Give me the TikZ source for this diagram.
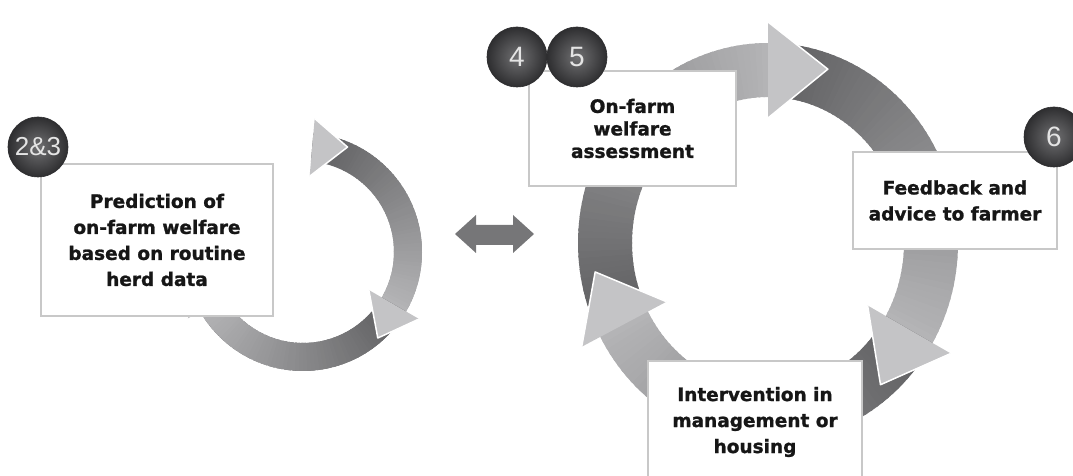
\documentclass[tikz,border=0pt]{standalone}
\usepackage{fontspec}
\newfontfamily\lblfont{DejaVu Sans}[BoldFeatures={FakeBold=1.2}]
\newfontfamily\numfont{Liberation Sans}
\definecolor{ringdark}{HTML}{5E5E60}
\definecolor{ringlight}{HTML}{B4B4B6}
\definecolor{ringhead}{HTML}{C4C4C6}
\definecolor{boxline}{HTML}{C8C8C8}
\definecolor{txt}{HTML}{161616}
\definecolor{balldark}{HTML}{2E2E30}
\definecolor{balllight}{HTML}{707072}
\definecolor{numtext}{HTML}{E4E4E4}
\definecolor{dblarrow}{HTML}{767678}

% body of a circular arrow: cx cy rx ry width tailangle baseangle
\newcommand{\ringbody}[7]{%
  \begin{scope}[shift={(#1,#2)}]
  \pgfmathsetmacro\rxo{#3}\pgfmathsetmacro\ryo{#4}%
  \pgfmathsetmacro\rxi{#3-#5}\pgfmathsetmacro\ryi{#4-#5}%
  \foreach \k in {0,...,59}{%
    \pgfmathsetmacro\aa{#6+(#7-#6)*\k/60}%
    \pgfmathsetmacro\bb{#6+(#7-#6)*(\k+1)/60-0.8}%
    \pgfmathtruncatemacro\p{100*\k/59}%
    \fill[ringlight!\p!ringdark] ({\rxo*cos(\aa)},{\ryo*sin(\aa)}) arc[start angle=\aa,end angle=\bb,x radius=\rxo,y radius=\ryo]
      -- ({\rxi*cos(\bb)},{\ryi*sin(\bb)}) arc[start angle=\bb,end angle=\aa,x radius=\rxi,y radius=\ryi] -- cycle;
  }
  \end{scope}}
% head: cx cy rx ry width baseangle tipangle ext tipext
\newcommand{\ringhead}[9]{%
  \begin{scope}[shift={(#1,#2)}]
  \pgfmathsetmacro\hxo{#3+#8}\pgfmathsetmacro\hyo{#4+#8}%
  \pgfmathsetmacro\hxi{#3-#5-#8}\pgfmathsetmacro\hyi{#4-#5-#8}%
  \pgfmathsetmacro\txc{#3-#5/2+#9}\pgfmathsetmacro\tyc{#4-#5/2+#9}%
  \coordinate (ho) at ({\hxo*cos(#6)},{\hyo*sin(#6)});
  \coordinate (hi) at ({\hxi*cos(#6)},{\hyi*sin(#6)});
  \coordinate (ht) at ({\txc*cos(#7)},{\tyc*sin(#7)});
  \fill[ringhead] (ho) -- (ht) -- (hi) -- cycle;
  \draw[white, line width=1.5pt, line join=round] (ho) -- (ht) -- (hi);
  \end{scope}}

\begin{document}
\begin{tikzpicture}[x=1pt,y=1pt,
  box/.style={draw=boxline, line width=1.5pt, fill=white, align=center, text=txt,
    font=\lblfont\bfseries\fontsize{18.5}{26}\selectfont, inner sep=0pt},
  numball/.style={circle, minimum size=60pt, inner sep=0pt, inner color=balllight,
    outer color=balldark, draw=balldark, line width=0.6pt, text=numtext,
    font=\numfont\fontsize{28}{28}\selectfont}]
\useasboundingbox (0,0) rectangle (1073,476);
\clip (0,0) rectangle (1073,476);

% ---------- left cycle ----------
\ringbody{303}{224}{119}{119}{28}{-150}{85}
\ringbody{303}{224}{119}{119}{28}{85}{-30}
\ringbody{303}{224}{119}{119}{28}{-30}{-150}
\ringhead{303}{224}{119}{119}{28}{85}{67}{15}{9}
\ringhead{303}{224}{119}{119}{28}{-30}{-49}{15}{9}
\ringhead{303}{224}{119}{119}{28}{-150}{-169}{15}{9}

% ---------- right cycle ----------
\ringbody{768}{233}{190}{200}{54}{208}{90}
\ringbody{768}{233}{190}{200}{54}{90}{-30}
\ringbody{768}{233}{190}{200}{54}{-30}{-152}
\ringhead{768}{233}{190}{200}{54}{90}{70}{21}{12}
\ringhead{768}{233}{190}{200}{54}{-30}{-50}{21}{12}
\ringhead{768}{233}{190}{200}{54}{-152}{-171}{21}{12}

% ---------- double arrow ----------
\fill[dblarrow] (455,242) -- (476,261) -- (476,251) -- (513,251) -- (513,261) -- (534,242)
  -- (513,223) -- (513,231) -- (476,231) -- (476,223) -- cycle;

% ---------- boxes ----------
\node[box, minimum width=232pt, minimum height=152pt] (pred) at (157,236)
  {Prediction of\\on-farm welfare\\based on routine\\herd data};
\node[box, minimum width=207pt, minimum height=115pt,
  font=\lblfont\bfseries\fontsize{18.5}{22.5}\selectfont] (assess) at (632.5,347.5)
  {On-farm\\welfare\\assessment};
\node[box, minimum width=204pt, minimum height=97pt] (feed) at (955,275.5)
  {Feedback and\\advice to farmer};
\node[box, minimum width=214pt, minimum height=122pt] (interv) at (755,54)
  {Intervention in\\management or\\housing};

% ---------- number balls ----------
\node[numball, font=\numfont\fontsize{26}{26}\selectfont] (n23) at (38,329) {2\&3};
\node[numball] (n4) at (517,419) {4};
\node[numball] (n5) at (577,419) {5};
\node[numball] (n6) at (1054,339) {6};
\end{tikzpicture}
\end{document}
